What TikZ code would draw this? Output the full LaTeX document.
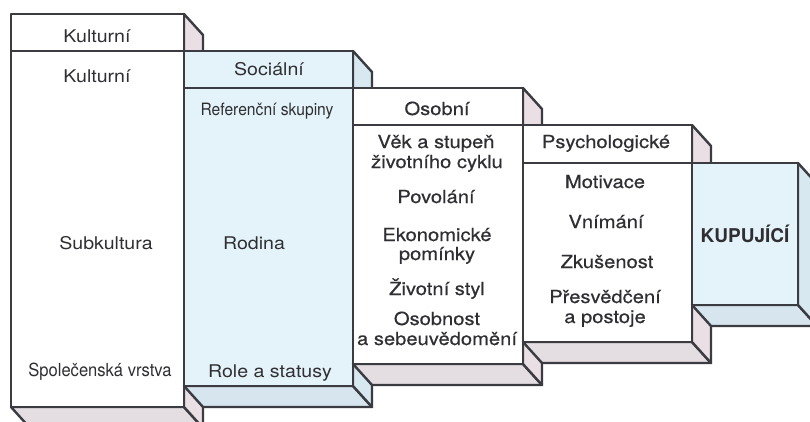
\documentclass[tikz,border=0pt]{standalone}
\usepackage{fontspec}
\setmainfont{TeX Gyre Heros}
\newfontfamily\widefont{TeX Gyre Heros}[FakeStretch=1.12]
\newfontfamily\heavyfont{TeX Gyre Heros}[FakeStretch=1.12,FakeBold=0.5]
\newfontfamily\narrowfont{TeX Gyre Heros}[FakeStretch=0.92]
\definecolor{edge}{HTML}{3B3B42}
\definecolor{ink}{HTML}{2F2F33}
\definecolor{bluefront}{HTML}{E4F3F9}
\definecolor{blueside}{HTML}{D8E8F0}
\definecolor{bluebottom}{HTML}{D6E5EE}
\definecolor{pinkside}{HTML}{EADFE5}
\definecolor{pinkbottom}{HTML}{E4DDE2}
\tikzset{
  face/.style={draw=edge, line width=2.4pt, line join=round},
  txt/.style={text=ink, inner sep=0pt, anchor=base, font=\heavyfont\fontsize{18}{20}\selectfont},
  txtsm/.style={txt, font=\widefont\fontsize{17.5}{20}\selectfont},
  txtnarrow/.style={txt, font=\narrowfont\fontsize{#1}{20}\selectfont},
  buyer/.style={txt, font=\bfseries\fontsize{19}{21}\selectfont},
}
\begin{document}
\begin{tikzpicture}[x=1pt, y=-1pt]
\useasboundingbox (0,0) rectangle (810,421);
\clip (0,0) rectangle (810,421);

% stepped boxes: left/right/top/bottom, front, side and bottom fills
\foreach \L/\R/\T/\B/\fr/\sd/\bt in {
   11/184/14/407/white/pinkside/pinkbottom,
   184/353/51/386/bluefront/blueside/bluebottom,
   353/523/88/364/white/pinkside/pinkbottom,
   523/692/125/342/white/pinkside/pinkbottom,
   692/798/163/305/bluefront/blueside/bluebottom}{
  \filldraw[face, fill=\bt] (\L,\B) -- (\R,\B) -- (\R+19,\B+21) -- (\L+19,\B+21) -- cycle;
  \filldraw[face, fill=\sd] (\R,\T) -- (\R+19,\T+21) -- (\R+19,\B+21) -- (\R,\B) -- cycle;
  \filldraw[face, fill=\fr] (\L,\T) rectangle (\R,\B);
}

% header rules
\draw[face] (11,51) -- (184,51);
\draw[face] (184,88) -- (353,88);
\draw[face] (353,125) -- (523,125);
\draw[face] (523,163) -- (692,163);

% cultural
\node[txtsm] (h1) at (97,42) {Kulturní};
\node[txtsm] (c1) at (97,82) {Kulturní};
\node[txtsm] (c2) at (106,249) {Subkultura};
\node[txtnarrow=18] (c3) at (100,376) {Společenská vrstva};

% social
\node[txtsm] (h2) at (269,75) {Sociální};
\node[txtnarrow=17] (s1) at (267,115) {Referenční skupiny};
\node[txtsm] (s2) at (254,249) {Rodina};
\node[txtsm] (s3) at (270,377) {Role a statusy};

% personal
\node[txt] (h3) at (437,115) {Osobní};
\node[txt] (p1) at (436,148) {Věk a stupeň};
\node[txt] (p2) at (437,168) {životního cyklu};
\node[txt] (p3) at (436,203) {Povolání};
\node[txt] (p4) at (437,241) {Ekonomické};
\node[txt] (p5) at (437,260) {pomínky};
\node[txt] (p6) at (437,295) {Životní styl};
\node[txt] (p7) at (437,325) {Osobnost};
\node[txt] (p8) at (437,345) {a sebeuvědomění};

% psychological
\node[txt] (h4) at (606,148) {Psychologické};
\node[txt] (q1) at (605,188) {Motivace};
\node[txt] (q2) at (606,228) {Vnímání};
\node[txt] (q3) at (607,268) {Zkušenost};
\node[txt] (q4) at (605,303) {Přesvědčení};
\node[txt] (q5) at (605,323) {a postoje};

% buyer
\node[buyer] (b) at (745,242) {KUPUJÍCÍ};
\end{tikzpicture}
\end{document}
